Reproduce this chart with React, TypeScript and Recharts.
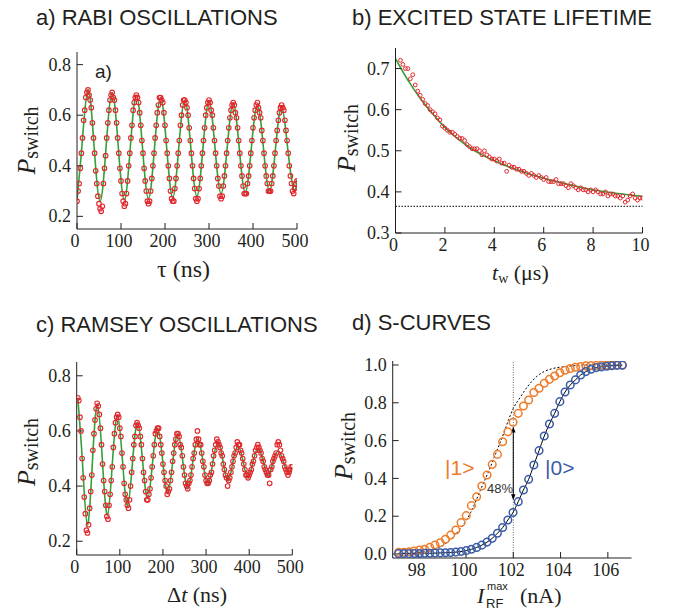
import React from 'react';
import { ComposedChart, Scatter, Line, XAxis, YAxis, ReferenceLine } from 'recharts';

const INK = '#231f20';
const RED = '#e3262d';
const GREEN = '#33a03a';
const ORANGE = '#ee7d2b';
const BLUE = '#3a5ca8';
const SERIF = '"Liberation Serif", "Times New Roman", serif';
const SANS = '"Liberation Sans", Arial, sans-serif';

// a) Rabi oscillations, tau = 0 .. 500 ns, one point every 2.5 ns
const rabiStepNs = 2.5;
const rabiP = [
  0.26, 0.30, 0.33, 0.39, 0.45, 0.51, 0.58, 0.62, 0.67, 0.69, 0.70, 0.68, 0.66, 0.63, 0.57, 0.51, 0.45, 0.38, 0.33, 0.28, 0.25, 0.23,
  0.22, 0.24, 0.33, 0.39, 0.44, 0.51, 0.57, 0.62, 0.66, 0.68, 0.69, 0.67, 0.66, 0.62, 0.57, 0.51, 0.45, 0.39, 0.34, 0.29, 0.26, 0.24,
  0.25, 0.29, 0.34, 0.40, 0.45, 0.51, 0.56, 0.62, 0.65, 0.67, 0.68, 0.67, 0.65, 0.61, 0.56, 0.50, 0.45, 0.39, 0.34, 0.30, 0.26, 0.25,
  0.26, 0.30, 0.35, 0.40, 0.45, 0.51, 0.56, 0.61, 0.64, 0.67, 0.67, 0.66, 0.65, 0.61, 0.56, 0.50, 0.45, 0.40, 0.35, 0.30, 0.27, 0.26,
  0.26, 0.31, 0.35, 0.40, 0.45, 0.50, 0.56, 0.60, 0.64, 0.66, 0.66, 0.65, 0.63, 0.60, 0.55, 0.50, 0.45, 0.40, 0.35, 0.31, 0.27, 0.26,
  0.27, 0.31, 0.35, 0.40, 0.45, 0.50, 0.55, 0.60, 0.63, 0.65, 0.66, 0.65, 0.62, 0.60, 0.55, 0.50, 0.45, 0.40, 0.35, 0.32, 0.28, 0.27,
  0.28, 0.32, 0.36, 0.40, 0.45, 0.50, 0.55, 0.59, 0.62, 0.64, 0.65, 0.64, 0.61, 0.59, 0.55, 0.50, 0.45, 0.40, 0.36, 0.32, 0.29, 0.29,
  0.29, 0.33, 0.36, 0.40, 0.45, 0.50, 0.55, 0.59, 0.62, 0.64, 0.65, 0.63, 0.61, 0.59, 0.54, 0.50, 0.45, 0.40, 0.36, 0.33, 0.30, 0.30,
  0.30, 0.33, 0.36, 0.40, 0.45, 0.50, 0.54, 0.58, 0.61, 0.63, 0.64, 0.63, 0.62, 0.58, 0.54, 0.50, 0.45, 0.40, 0.36, 0.33, 0.30, 0.29,
  0.31, 0.33, 0.34,
];
const rabiFitTau = [
  0, 11.25, 25, 38.75, 52.5, 66.25, 80, 93.75, 107.5, 121.25, 135, 148.75, 162.5, 176.25, 190, 203.75, 217.5, 231.25, 245,
  258.75, 272.5, 286.25, 300, 313.75, 327.5, 341.25, 355, 368.75, 382.5, 396.25, 410, 423.75, 437.5, 451.25, 465, 478.75, 492.5, 500,
];
const rabiFitP = [
  0.265, 0.48, 0.70, 0.48, 0.26, 0.477, 0.69, 0.477, 0.265, 0.475, 0.68, 0.475, 0.27, 0.473, 0.67, 0.473, 0.275, 0.47, 0.66,
  0.47, 0.28, 0.47, 0.655, 0.47, 0.29, 0.47, 0.648, 0.47, 0.295, 0.47, 0.64, 0.47, 0.30, 0.47, 0.635, 0.47, 0.305, 0.345,
];

// b) excited state lifetime, t_w = 0.2 .. 10 us, one point every 0.1 us
const lifeStartUs = 0.2;
const lifeStepUs = 0.1;
const lifeP = [
  0.72, 0.71, 0.70, 0.70, 0.675, 0.685, 0.66, 0.645, 0.635, 0.625,
  0.615, 0.61, 0.60, 0.595, 0.59, 0.58, 0.575, 0.56, 0.555, 0.55,
  0.545, 0.545, 0.54, 0.535, 0.53, 0.53, 0.525, 0.515, 0.51, 0.505,
  0.505, 0.505, 0.50, 0.49, 0.50, 0.49, 0.485, 0.48, 0.48, 0.475,
  0.48, 0.47, 0.47, 0.45, 0.465, 0.46, 0.46, 0.455, 0.455, 0.45,
  0.45, 0.445, 0.44, 0.445, 0.44, 0.435, 0.44, 0.435, 0.43, 0.435,
  0.425, 0.425, 0.425, 0.43, 0.42, 0.42, 0.42, 0.415, 0.41, 0.42,
  0.415, 0.41, 0.405, 0.41, 0.405, 0.405, 0.40, 0.405, 0.40, 0.405,
  0.40, 0.395, 0.395, 0.40, 0.39, 0.395, 0.395, 0.39, 0.39, 0.385,
  0.39, 0.375, 0.38, 0.39, 0.395, 0.385, 0.38, 0.385, 0.385,
];
const lifeFitT = [0, 0.5, 1, 1.5, 2, 2.5, 3, 3.5, 4, 4.5, 5, 6, 7, 8, 9, 10];
const lifeFitP = [0.724, 0.672, 0.628, 0.59, 0.557, 0.53, 0.508, 0.49, 0.476, 0.463, 0.452, 0.433, 0.418, 0.405, 0.396, 0.389];
const lifeAsymptote = 0.365;

// c) Ramsey oscillations, dt = 2.5 .. 500 ns, one point every 2.5 ns
const ramseyStepNs = 2.5;
const ramseyP = [
  0.72, 0.71, 0.65, 0.60, 0.50, 0.43, 0.36, 0.30, 0.24, 0.23, 0.26, 0.32, 0.38, 0.44, 0.53, 0.59, 0.64, 0.68, 0.70, 0.69,
  0.66, 0.61, 0.55, 0.48, 0.42, 0.38, 0.33, 0.29, 0.28, 0.33, 0.37, 0.42, 0.47, 0.54, 0.59, 0.63, 0.65, 0.66, 0.65, 0.61,
  0.58, 0.52, 0.47, 0.41, 0.37, 0.35, 0.33, 0.32, 0.35, 0.40, 0.45, 0.50, 0.55, 0.58, 0.62, 0.63, 0.62, 0.61, 0.58, 0.55,
  0.50, 0.45, 0.42, 0.38, 0.35, 0.35, 0.37, 0.39, 0.43, 0.47, 0.51, 0.55, 0.59, 0.60, 0.61, 0.61, 0.58, 0.55, 0.52, 0.48,
  0.45, 0.42, 0.40, 0.37, 0.38, 0.39, 0.42, 0.45, 0.49, 0.52, 0.55, 0.57, 0.59, 0.59, 0.58, 0.55, 0.54, 0.51, 0.47, 0.44,
  0.41, 0.40, 0.39, 0.41, 0.42, 0.44, 0.47, 0.50, 0.52, 0.55, 0.57, 0.60, 0.57, 0.55, 0.55, 0.52, 0.49, 0.47, 0.44, 0.42,
  0.41, 0.41, 0.42, 0.44, 0.45, 0.48, 0.51, 0.53, 0.55, 0.57, 0.56, 0.55, 0.54, 0.52, 0.51, 0.48, 0.46, 0.44, 0.43, 0.40,
  0.42, 0.43, 0.45, 0.47, 0.49, 0.51, 0.52, 0.54, 0.56, 0.55, 0.55, 0.53, 0.52, 0.50, 0.48, 0.46, 0.44, 0.44, 0.43, 0.44,
  0.45, 0.46, 0.48, 0.49, 0.51, 0.53, 0.54, 0.55, 0.54, 0.53, 0.52, 0.50, 0.49, 0.47, 0.46, 0.45, 0.44, 0.44, 0.41, 0.46,
  0.47, 0.49, 0.50, 0.51, 0.52, 0.55, 0.56, 0.55, 0.53, 0.51, 0.50, 0.49, 0.47, 0.46, 0.45, 0.44, 0.45, 0.46, 0.47, 0.47,
];
const ramseyFitT = [
  2.5, 13.2, 24.8, 36.5, 48.1, 59.7, 71.4, 83, 94.7, 106.3, 118, 129.6, 141.3, 152.9, 164.6, 176.2, 187.9, 199.5, 211.2, 222.8,
  234.5, 246.1, 257.8, 269.4, 281.1, 292.7, 304.4, 316, 327.7, 339.3, 351, 362.6, 374.3, 385.9, 397.6, 409.2, 420.9, 432.5,
  444.2, 455.8, 467.5, 479.1, 490.8, 500,
];
const ramseyFitP = [
  0.72, 0.49, 0.26, 0.49, 0.695, 0.49, 0.295, 0.49, 0.655, 0.49, 0.33, 0.49, 0.63, 0.49, 0.355, 0.49, 0.61, 0.49, 0.375, 0.49,
  0.59, 0.49, 0.39, 0.49, 0.57, 0.49, 0.405, 0.49, 0.557, 0.49, 0.418, 0.49, 0.545, 0.49, 0.428, 0.49, 0.535, 0.49,
  0.437, 0.49, 0.527, 0.49, 0.45, 0.47,
];

// d) S-curves vs I_RF^max (nA)
const sCurveI = [
  97.15, 97.37, 97.59, 97.81, 98.03, 98.25, 98.47, 98.69, 98.91, 99.13, 99.35, 99.57, 99.79, 100.01, 100.23,
  100.45, 100.67, 100.89, 101.11, 101.33, 101.55, 101.77, 101.99, 102.21, 102.43, 102.65, 102.87, 103.09, 103.31,
  103.53, 103.75, 103.97, 104.19, 104.41, 104.63, 104.85, 105.07, 105.29, 105.51, 105.73, 105.95, 106.17, 106.39, 106.61,
];
const excitedP = [
  0.009, 0.009, 0.012, 0.016, 0.021, 0.025, 0.035, 0.048, 0.06, 0.078, 0.10, 0.127, 0.166, 0.203, 0.256,
  0.303, 0.36, 0.418, 0.474, 0.527, 0.594, 0.647, 0.697, 0.744, 0.783, 0.815, 0.854, 0.877, 0.903,
  0.924, 0.942, 0.959, 0.972, 0.981, 0.988, 0.992, 0.995, 0.997, 0.998, 0.999, 0.999, 1.0, 1.0, 1.0,
];
const groundP = [
  0.002, 0.002, 0.002, 0.003, 0.003, 0.004, 0.004, 0.005, 0.006, 0.007, 0.008, 0.010, 0.013, 0.018, 0.025,
  0.035, 0.047, 0.063, 0.083, 0.11, 0.14, 0.18, 0.22, 0.277, 0.339, 0.395, 0.471, 0.547, 0.624,
  0.688, 0.744, 0.806, 0.857, 0.894, 0.921, 0.947, 0.965, 0.977, 0.986, 0.990, 0.993, 0.996, 0.998, 0.999,
];
const idealI = [97.15, 97.8, 98.5, 99.05, 99.6, 100.2, 100.6, 101.0, 101.3, 101.6, 101.8, 102.0, 102.3, 102.6, 103.0, 103.3, 103.7, 104.1, 104.6, 105.2, 106.6];
const idealP = [0.003, 0.007, 0.02, 0.048, 0.11, 0.22, 0.335, 0.45, 0.545, 0.64, 0.71, 0.77, 0.83, 0.885, 0.94, 0.965, 0.982, 0.99, 0.997, 1.0, 1.0];
const readoutI = 102;
const contrastFrom = 0.285;
const contrastTo = 0.675;

const zip = (xs: number[], ys: number[]) => xs.map((x, i) => ({ x, y: ys[i] }));
const rabiData = rabiP.map((y, i) => ({ x: i * rabiStepNs, y }));
const rabiFit = zip(rabiFitTau, rabiFitP);
const lifeData = lifeP.map((y, i) => ({ x: lifeStartUs + i * lifeStepUs, y }));
const lifeFit = zip(lifeFitT, lifeFitP);
const ramseyData = ramseyP.map((y, i) => ({ x: (i + 1) * ramseyStepNs, y }));
const ramseyFit = zip(ramseyFitT, ramseyFitP);
const excitedData = zip(sCurveI, excitedP);
const groundData = zip(sCurveI, groundP);
const idealData = zip(idealI, idealP);

const Y_AXIS_W = 40;
const X_AXIS_H = 30;
const TICK_IN = -6;

// tick labels in Times-like serif, as in the original figure
const XTick = (p: any) => (
  <text x={p.x - 2} y={p.y} dy="0.72em" textAnchor="middle" fontFamily={SERIF} fontSize={18} fill={INK}>
    {p.payload.value}
  </text>
);
const YTick = (p: any) => (
  <text x={p.x} y={p.y} dy="0.34em" textAnchor="end" fontFamily={SERIF} fontSize={18} fill={INK}>
    {Number(p.payload.value).toFixed(1)}
  </text>
);

type Box = { left: number; top: number; width: number; height: number };
type Plot = { x0: number; x1: number; y0: number; y1: number };

function Frame(props: {
  box: Box;
  plot: Plot;
  xDomain: [number, number];
  xTicks: number[];
  yDomain: [number, number];
  yTicks: number[];
  children: React.ReactNode;
}) {
  const { box, plot, xDomain, xTicks, yDomain, yTicks, children } = props;
  const margin = {
    top: plot.y0 - box.top,
    bottom: box.top + box.height - plot.y1 - X_AXIS_H,
    left: plot.x0 - box.left - Y_AXIS_W,
    right: box.left + box.width - plot.x1,
  };
  const stroke = { stroke: INK, strokeWidth: 1 };
  return (
    <div style={{ position: 'absolute', left: box.left, top: box.top }}>
      <ComposedChart width={box.width} height={box.height} margin={margin}>
        <XAxis xAxisId="b" type="number" dataKey="x" domain={xDomain} ticks={xTicks} interval={0} allowDataOverflow
          height={X_AXIS_H} tickSize={TICK_IN} tickMargin={11} tick={XTick} axisLine={stroke} tickLine={stroke} />
        <XAxis xAxisId="t" orientation="top" type="number" dataKey="x" domain={xDomain} ticks={xTicks} interval={0} allowDataOverflow
          height={0} tickSize={TICK_IN} tick={false} axisLine={stroke} tickLine={stroke} />
        <YAxis yAxisId="l" type="number" dataKey="y" domain={yDomain} ticks={yTicks} interval={0} allowDataOverflow
          width={Y_AXIS_W} tickSize={TICK_IN} tickMargin={12} tick={YTick} axisLine={stroke} tickLine={stroke} />
        <YAxis yAxisId="r" orientation="right" type="number" dataKey="y" domain={yDomain} ticks={yTicks} interval={0} allowDataOverflow
          width={0} tickSize={TICK_IN} tick={false} axisLine={stroke} tickLine={stroke} />
        {children}
      </ComposedChart>
    </div>
  );
}

const ring = (r: number, color: string, w: number) => (p: any) =>
  <circle cx={p.cx} cy={p.cy} r={r} fill="none" stroke={color} strokeWidth={w} />;

const arrowShape = (p: any) => {
  const x = p.x1;
  const top = Math.min(p.y1, p.y2);
  const bot = Math.max(p.y1, p.y2);
  return (
    <g>
      <line x1={x} y1={top + 4} x2={x} y2={bot - 4} stroke="#000" strokeWidth={1} />
      <path d={`M${x},${top} l-2.2,6 h4.4 z`} fill="#000" />
      <path d={`M${x},${bot} l-2.2,-6 h4.4 z`} fill="#000" />
    </g>
  );
};

function YLabel({ x, y }: { x: number; y: number }) {
  return (
    <text x={x} y={y} transform={`rotate(-90, ${x}, ${y})`} textAnchor="middle" fontFamily={SERIF} fill={INK}>
      <tspan fontStyle="italic" fontSize={26}>P</tspan>
      <tspan fontSize={20} dy={3}>switch</tspan>
    </text>
  );
}

export default function App() {
  return (
    <div style={{ position: 'absolute', left: 0, top: 0, width: 673, height: 614, background: '#fff', overflow: 'hidden' }}>
      <Frame box={{ left: 0, top: 0, width: 336, height: 300 }} plot={{ x0: 77, x1: 297, y0: 52, y1: 229 }}
        xDomain={[0, 500]} xTicks={[0, 100, 200, 300, 400, 500]} yDomain={[0.15, 0.85]} yTicks={[0.2, 0.4, 0.6, 0.8]}>
        <Scatter xAxisId="b" yAxisId="l" data={rabiData} shape={ring(2.3, RED, 1.1)} isAnimationActive={false} />
        <Line xAxisId="b" yAxisId="l" data={rabiFit} dataKey="y" type="natural" stroke={GREEN} strokeWidth={1.6} dot={false} isAnimationActive={false} />
      </Frame>

      <Frame box={{ left: 336, top: 0, width: 337, height: 300 }} plot={{ x0: 395.5, x1: 642.5, y0: 48, y1: 233 }}
        xDomain={[0, 10]} xTicks={[0, 2, 4, 6, 8, 10]} yDomain={[0.3, 0.75]} yTicks={[0.3, 0.4, 0.5, 0.6, 0.7]}>
        <ReferenceLine xAxisId="b" yAxisId="l" y={lifeAsymptote} stroke="#000" strokeWidth={1} strokeDasharray="1.5 1.5" />
        <Scatter xAxisId="b" yAxisId="l" data={lifeData} shape={ring(1.9, RED, 1)} isAnimationActive={false} />
        <Line xAxisId="b" yAxisId="l" data={lifeFit} dataKey="y" type="monotone" stroke={GREEN} strokeWidth={1.6} dot={false} isAnimationActive={false} />
      </Frame>

      <Frame box={{ left: 0, top: 300, width: 336, height: 314 }} plot={{ x0: 76.7, x1: 292.3, y0: 362, y1: 555 }}
        xDomain={[0, 500]} xTicks={[0, 100, 200, 300, 400, 500]} yDomain={[0.15, 0.85]} yTicks={[0.2, 0.4, 0.6, 0.8]}>
        <Scatter xAxisId="b" yAxisId="l" data={ramseyData} shape={ring(2.3, RED, 1.1)} isAnimationActive={false} />
        <Line xAxisId="b" yAxisId="l" data={ramseyFit} dataKey="y" type="natural" stroke={GREEN} strokeWidth={1.6} dot={false} isAnimationActive={false} />
      </Frame>

      <Frame box={{ left: 336, top: 300, width: 337, height: 314 }} plot={{ x0: 392.7, x1: 631.5, y0: 361, y1: 558 }}
        xDomain={[96.9, 107]} xTicks={[98, 100, 102, 104, 106]} yDomain={[-0.021, 1.021]} yTicks={[0, 0.2, 0.4, 0.6, 0.8, 1]}>
        <ReferenceLine xAxisId="b" yAxisId="l" x={readoutI} stroke="#444" strokeWidth={0.8} strokeDasharray="1 1.5" />
        <Scatter xAxisId="b" yAxisId="l" data={excitedData} shape={ring(3.8, ORANGE, 1.5)} isAnimationActive={false} />
        <Scatter xAxisId="b" yAxisId="l" data={groundData} shape={ring(3.8, BLUE, 1.5)} isAnimationActive={false} />
        <Line xAxisId="b" yAxisId="l" data={idealData} dataKey="y" type="monotone" stroke="#000" strokeWidth={1} strokeDasharray="2 2" dot={false} isAnimationActive={false} />
        <Line xAxisId="b" yAxisId="l" data={groundData} dataKey="y" type="monotone" stroke="#000" strokeWidth={1} dot={false} isAnimationActive={false} />
        <ReferenceLine xAxisId="b" yAxisId="l" segment={[{ x: readoutI, y: contrastFrom }, { x: readoutI, y: contrastTo }]} shape={arrowShape} />
      </Frame>

      <svg width={673} height={614} style={{ position: 'absolute', left: 0, top: 0, pointerEvents: 'none' }}>
        <g fontFamily={SANS} fontSize={22} fill={INK}>
          <text x={36} y={25}>a) RABI OSCILLATIONS</text>
          <text x={352} y={25}>b) EXCITED STATE LIFETIME</text>
          <text x={36} y={332}>c) RAMSEY OSCILLATIONS</text>
          <text x={352} y={330}>d) S-CURVES</text>
        </g>
        <text x={95} y={78} fontFamily={SANS} fontSize={19} fill={INK}>a)</text>

        <YLabel x={35} y={140.5} />
        <YLabel x={355} y={138} />
        <YLabel x={35} y={452} />
        <YLabel x={352} y={446} />

        <text x={183.5} y={277} textAnchor="middle" fontFamily={SERIF} fontSize={24} fill={INK}>τ (ns)</text>
        <text x={492} y={280} fontFamily={SERIF} fontSize={22} fill={INK}>
          <tspan fontStyle="italic">t</tspan>
          <tspan fontSize={14} dy={3}>w</tspan>
          <tspan dy={-3}> (μs)</tspan>
        </text>
        <text x={167} y={602} fontFamily={SERIF} fontSize={22} fill={INK}>
          <tspan>Δ</tspan>
          <tspan fontStyle="italic">t</tspan>
          <tspan> (ns)</tspan>
        </text>
        <text fontFamily={SERIF} fontSize={22} fill={INK}>
          <tspan x={477} y={603} fontStyle="italic">I</tspan>
          <tspan x={486} y={608} fontFamily={SANS} fontSize={13}>RF</tspan>
          <tspan x={487} y={590} fontFamily={SANS} fontSize={11}>max</tspan>
          <tspan x={520} y={603}>(nA)</tspan>
        </text>

        <text x={445} y={475} fontFamily={SANS} fontSize={21} fill={ORANGE}>|1&gt;</text>
        <text x={545} y={475} fontFamily={SANS} fontSize={21} fill={BLUE}>|0&gt;</text>
        <text x={487} y={493} fontFamily={SANS} fontSize={13} fill="#333">48%</text>
      </svg>
    </div>
  );
}
